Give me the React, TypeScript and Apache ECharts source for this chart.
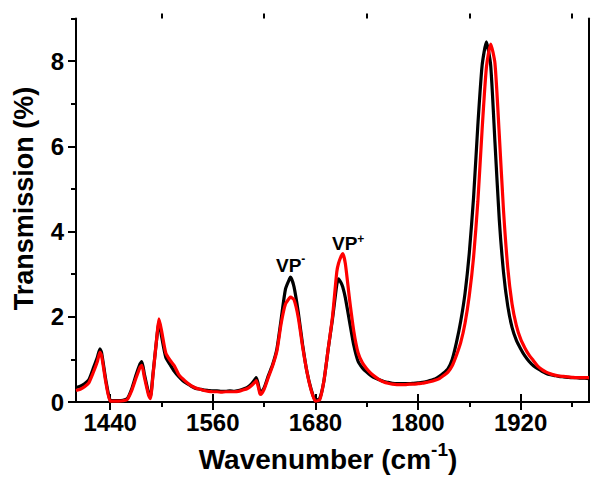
import React, { useEffect, useRef } from 'react';
import * as echarts from 'echarts';

const wavenumbers = [
  1400, 1405, 1410, 1415, 1420, 1425, 1428, 1430, 1435, 1440, 1445,
  1450, 1455, 1460, 1465, 1470, 1475, 1477, 1480, 1485, 1487, 1490, 1495, 1497,
  1500, 1505, 1510, 1515, 1520, 1525, 1530, 1535, 1540, 1545,
  1550, 1555, 1560, 1565, 1570, 1575, 1580, 1585, 1590, 1595,
  1600, 1605, 1610, 1611, 1615, 1616, 1620, 1625, 1630, 1635, 1640, 1645,
  1650, 1651, 1655, 1660, 1665, 1670, 1675, 1680, 1685, 1690, 1695,
  1700, 1705, 1707, 1710, 1712, 1715, 1720, 1725, 1730, 1735, 1740, 1745,
  1750, 1755, 1760, 1765, 1770, 1775, 1780, 1785, 1790, 1795,
  1800, 1805, 1810, 1815, 1820, 1825, 1830, 1835, 1840, 1845,
  1850, 1855, 1860, 1865, 1870, 1875, 1880, 1885, 1890, 1895,
  1900, 1905, 1910, 1915, 1920, 1925, 1930, 1935, 1940, 1945,
  1950, 1955, 1960, 1965, 1970, 1975, 1980, 1985, 1990, 1995, 2000,
];

const blackSeries = [
  0.34, 0.37, 0.43, 0.52, 0.78, 1.05, 1.25, 1.15, 0.5, 0.04, 0.03,
  0.03, 0.04, 0.08, 0.3, 0.62, 0.9, 0.95, 0.65, 0.2, 0.12, 0.65, 1.6, 1.88,
  1.55, 1.05, 0.88, 0.72, 0.6, 0.5, 0.43, 0.37, 0.32, 0.3,
  0.28, 0.27, 0.26, 0.26, 0.25, 0.25, 0.26, 0.25, 0.27, 0.3,
  0.34, 0.42, 0.55, 0.57, 0.25, 0.22, 0.33, 0.62, 0.88, 1.25, 1.95, 2.65,
  2.9, 2.93, 2.7, 2.1, 1.35, 0.72, 0.3, 0.04, 0.08, 0.5, 1.25,
  1.95, 2.75, 2.89, 2.8, 2.7, 2.45, 1.88, 1.32, 0.95, 0.8, 0.7, 0.62,
  0.56, 0.52, 0.48, 0.46, 0.44, 0.43, 0.43, 0.43, 0.43, 0.44,
  0.45, 0.46, 0.48, 0.51, 0.54, 0.6, 0.68, 0.78, 1.0, 1.4,
  1.9, 2.55, 3.5, 4.8, 6.5, 7.9, 8.45, 7.9, 6.1, 4.3,
  3.05, 2.25, 1.75, 1.45, 1.25, 1.08, 0.95, 0.85, 0.78, 0.72,
  0.67, 0.64, 0.62, 0.6, 0.59, 0.58, 0.57, 0.57, 0.56, 0.56, 0.55,
];

const redSeries = [
  0.27, 0.3, 0.36, 0.45, 0.68, 0.95, 1.17, 1.08, 0.45, 0.02, 0.02,
  0.02, 0.03, 0.06, 0.26, 0.55, 0.82, 0.86, 0.58, 0.15, 0.08, 0.62, 1.62, 1.95,
  1.68, 1.15, 0.98, 0.85, 0.65, 0.54, 0.45, 0.38, 0.33, 0.3,
  0.27, 0.25, 0.24, 0.24, 0.23, 0.24, 0.24, 0.24, 0.25, 0.28,
  0.31, 0.38, 0.48, 0.5, 0.2, 0.18, 0.3, 0.58, 0.85, 1.2, 1.85, 2.3,
  2.45, 2.46, 2.4, 1.98, 1.3, 0.72, 0.28, 0.02, 0.05, 0.5, 1.25,
  2.0, 3.05, 3.25, 3.42, 3.48, 3.25, 2.4, 1.65, 1.15, 0.92, 0.78, 0.67,
  0.59, 0.52, 0.47, 0.44, 0.42, 0.41, 0.41, 0.41, 0.42, 0.42,
  0.43, 0.44, 0.46, 0.48, 0.51, 0.55, 0.62, 0.7, 0.85, 1.1,
  1.4, 1.85, 2.5, 3.4, 4.7, 6.4, 7.85, 8.4, 7.95, 6.3,
  4.5, 3.15, 2.3, 1.8, 1.48, 1.27, 1.1, 0.97, 0.84, 0.76,
  0.7, 0.66, 0.63, 0.61, 0.6, 0.59, 0.58, 0.57, 0.57, 0.57, 0.57,
];

const xMajorTicks = [1440, 1560, 1680, 1800, 1920];
const xMinorTicks = [1500, 1620, 1740, 1860, 1980];
const yMajorTicks = [0, 2, 4, 6, 8];
const yMinorTicks = [1, 3, 5, 7, 9];

const FONT = '"Liberation Sans", Arial, Helvetica, sans-serif';

function measure(text: string, size: number): number {
  const ctx = document.createElement('canvas').getContext('2d');
  if (!ctx) return text.length * size * 0.6;
  ctx.font = `bold ${size}px ${FONT}`;
  return ctx.measureText(text).width;
}

export default function App() {
  const ref = useRef<HTMLDivElement>(null);

  useEffect(() => {
    if (!ref.current) return;
    const chart = echarts.init(ref.current, null, { renderer: 'svg' });

    const axisLineStyle = { color: '#000', width: 2 };
    const tickStyle = { color: '#000', width: 2 };
    const xRange = { min: 1400, max: 2000 };
    const yRange = { min: 0, max: 9 };

    const pairs = (ys: number[]) => wavenumbers.map((x, i) => [x, ys[i]]);
    const plain = (v: number) => String(v);

    const tSize = 28;
    const ySize = 27;
    const supSize = 19;
    const main = 'Wavenumber (cm';
    const sup = '-1';
    const close = ')';
    const wMain = measure(main, tSize);
    const wSup = measure(sup, supSize);
    const wClose = measure(close, tSize);
    const x0 = 328 - (wMain + wSup + wClose) / 2;

    const vpSize = 19;
    const wVP = measure('VP', vpSize);

    const textBase = { fontFamily: FONT, fontWeight: 'bold', fill: '#000' };
    const labelBase = { fontSize: 24, fontWeight: 'bold', color: '#000', fontFamily: FONT, formatter: plain };

    chart.setOption({
      animation: false,
      backgroundColor: '#fff',
      grid: { left: 76, right: 3, top: 18.5, bottom: 78, containLabel: false, outerBoundsMode: 'none' },
      xAxis: [
        {
          type: 'value', position: 'bottom', ...xRange,
          axisLine: { show: true, lineStyle: axisLineStyle },
          axisTick: { show: true, inside: false, length: 8, lineStyle: tickStyle, customValues: xMajorTicks },
          axisLabel: { show: true, customValues: xMajorTicks, margin: 8, ...labelBase },
          splitLine: { show: false },
        },
        {
          type: 'value', position: 'bottom', ...xRange,
          axisLine: { show: false },
          axisTick: { show: true, length: 5, lineStyle: tickStyle, customValues: xMinorTicks },
          axisLabel: { show: false },
          splitLine: { show: false },
        },
        {
          type: 'value', position: 'top', ...xRange,
          axisLine: { show: true, lineStyle: axisLineStyle },
          axisTick: { show: true, length: 8, lineStyle: tickStyle, customValues: xMajorTicks },
          axisLabel: { show: false },
          splitLine: { show: false },
        },
        {
          type: 'value', position: 'top', ...xRange,
          axisLine: { show: false },
          axisTick: { show: true, length: 5, lineStyle: tickStyle, customValues: xMinorTicks },
          axisLabel: { show: false },
          splitLine: { show: false },
        },
      ],
      yAxis: [
        {
          type: 'value', position: 'left', ...yRange,
          axisLine: { show: true, lineStyle: axisLineStyle },
          axisTick: { show: true, length: 8, lineStyle: tickStyle, customValues: yMajorTicks },
          axisLabel: { show: true, customValues: yMajorTicks, margin: 12, ...labelBase },
          splitLine: { show: false },
        },
        {
          type: 'value', position: 'left', ...yRange,
          axisLine: { show: false },
          axisTick: { show: true, length: 5, lineStyle: tickStyle, customValues: yMinorTicks },
          axisLabel: { show: false },
          splitLine: { show: false },
        },
        {
          type: 'value', position: 'right', ...yRange,
          axisLine: { show: true, lineStyle: axisLineStyle },
          axisTick: { show: false },
          axisLabel: { show: false },
          splitLine: { show: false },
        },
      ],
      series: [
        {
          type: 'line', name: 'black', xAxisIndex: 0, yAxisIndex: 0,
          data: pairs(blackSeries), showSymbol: false, smooth: 0.2,
          lineStyle: { color: '#000', width: 3.2 }, itemStyle: { color: '#000' },
          clip: true, z: 2,
        },
        {
          type: 'line', name: 'red', xAxisIndex: 0, yAxisIndex: 0,
          data: pairs(redSeries), showSymbol: false, smooth: 0.2,
          lineStyle: { color: '#f00', width: 3.2 }, itemStyle: { color: '#f00' },
          clip: true, z: 3,
        },
      ],
      graphic: [
        { type: 'text', x: 24, y: 198.5, rotation: Math.PI / 2,
          style: { ...textBase, text: 'Transmission (%)', fontSize: ySize, align: 'center', verticalAlign: 'middle' } },
        { type: 'text', x: x0, y: 459,
          style: { ...textBase, text: main, fontSize: tSize, align: 'left', verticalAlign: 'middle' } },
        { type: 'text', x: x0 + wMain, y: 449,
          style: { ...textBase, text: sup, fontSize: supSize, align: 'left', verticalAlign: 'middle' } },
        { type: 'text', x: x0 + wMain + wSup, y: 459,
          style: { ...textBase, text: close, fontSize: tSize, align: 'left', verticalAlign: 'middle' } },
        { type: 'text', x: 276, y: 265,
          style: { ...textBase, text: 'VP', fontSize: vpSize, align: 'left', verticalAlign: 'middle' } },
        { type: 'text', x: 276 + wVP, y: 259,
          style: { ...textBase, text: '-', fontSize: 12, align: 'left', verticalAlign: 'middle' } },
        { type: 'text', x: 332, y: 243.5,
          style: { ...textBase, text: 'VP', fontSize: vpSize, align: 'left', verticalAlign: 'middle' } },
        { type: 'text', x: 332 + wVP, y: 239,
          style: { ...textBase, text: '+', fontSize: 12, align: 'left', verticalAlign: 'middle' } },
      ],
    });

    return () => chart.dispose();
  }, []);

  return (
    <div
      ref={ref}
      style={{ position: 'fixed', left: 0, top: 0, width: 592, height: 480, background: '#fff' }}
    />
  );
}
